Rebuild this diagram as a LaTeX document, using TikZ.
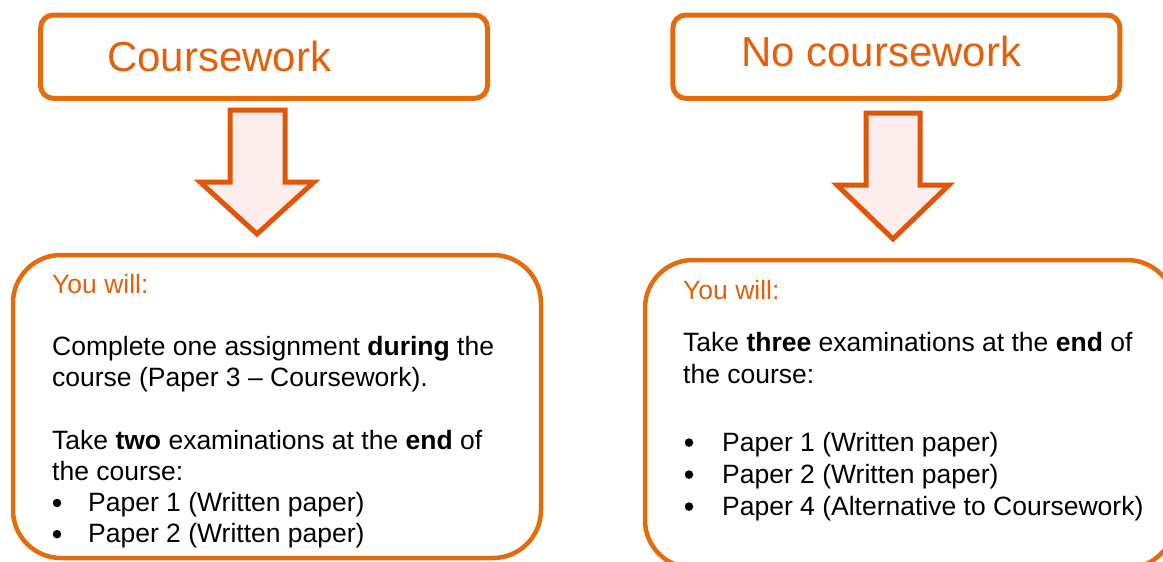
\documentclass[tikz,border=0pt]{standalone}
\usepackage{fontspec}
\setmainfont{Liberation Sans}
\begin{document}
\definecolor{boxorange}{HTML}{E46C0A}
\definecolor{arroworange}{HTML}{E05508}
\definecolor{arrowfill}{HTML}{FDEDEC}
\definecolor{headorange}{HTML}{E4600A}
\begin{tikzpicture}[x=1pt,y=-1pt,
  titlebox/.style={draw=boxorange, line width=5pt, rounded corners=13pt, fill=white, inner sep=0pt},
  infobox/.style={draw=boxorange, line width=4.5pt, rounded corners=48pt, fill=white, inner sep=0pt},
  blockarrow/.style={draw=arroworange, fill=arrowfill, line width=5pt, line join=miter},
  titletext/.style={anchor=base west, inner sep=0pt, text=headorange, font=\fontsize{42}{48}\selectfont},
  bodytext/.style={anchor=base west, inner sep=0pt, text=black, font=\fontsize{26.5}{31}\selectfont},
  leadtext/.style={bodytext, text=headorange},
  bulletdot/.style={circle, fill=black, inner sep=0pt, minimum size=8.5pt}
]
\useasboundingbox (0,0) rectangle (1163,562);
\clip (0,0) rectangle (1163,562);
\fill[white] (0,0) rectangle (1163,562);

% heading boxes
\node[titlebox, minimum width=447pt, minimum height=83.4pt] (cwbox) at (264,56.7) {};
\node[titlebox, minimum width=447pt, minimum height=83.4pt] (ncbox) at (896.4,56.7) {};
\node[titletext] (cwtitle) at (107,71.5) {Coursework};
\node[titletext] (nctitle) at (741,66.7) {No coursework};

% block arrows
\draw[blockarrow] (230,110) -- (285,110) -- (285,182) -- (314,182) -- (257,234)
  -- (200,182) -- (230,182) -- cycle;
\draw[blockarrow] (866,113) -- (920,113) -- (920,185) -- (949,185) -- (893,239)
  -- (837,185) -- (866,185) -- cycle;

% detail boxes
\node[infobox, minimum width=528pt, minimum height=303pt] (cwinfo) at (277,406.5) {};
\node[infobox, minimum width=530pt, minimum height=308pt] (ncinfo) at (910,414) {};

% coursework route
\node[leadtext] (cwlead) at (52,293) {You will:};
\node[bodytext] (cwa) at (52,355.4) {Complete one assignment \textbf{during} the};
\node[bodytext] (cwb) at (52,386.6) {course (Paper 3 – Coursework).};
\node[bodytext] (cwc) at (52,449) {Take \textbf{two} examinations at the \textbf{end} of};
\node[bodytext] (cwd) at (52,480.2) {the course:};
\node[bulletdot] (cwbul1) at (57,503) {};
\node[bodytext] (cwp1) at (88,511.4) {Paper 1 (Written paper)};
\node[bulletdot] (cwbul2) at (57,534.2) {};
\node[bodytext] (cwp2) at (88,542.6) {Paper 2 (Written paper)};

% no-coursework route
\node[leadtext] (nclead) at (683,299) {You will:};
\node[bodytext] (nca) at (683,351) {Take \textbf{three} examinations at the \textbf{end} of};
\node[bodytext] (ncb) at (683,383) {the course:};
\node[bulletdot] (ncbul1) at (689,442.6) {};
\node[bodytext] (ncp1) at (722,451) {Paper 1 (Written paper)};
\node[bulletdot] (ncbul2) at (689,474.6) {};
\node[bodytext] (ncp2) at (722,483) {Paper 2 (Written paper)};
\node[bulletdot] (ncbul3) at (689,506.6) {};
\node[bodytext] (ncp3) at (722,515) {Paper 4 (Alternative to Coursework)};
\end{tikzpicture}
\end{document}
